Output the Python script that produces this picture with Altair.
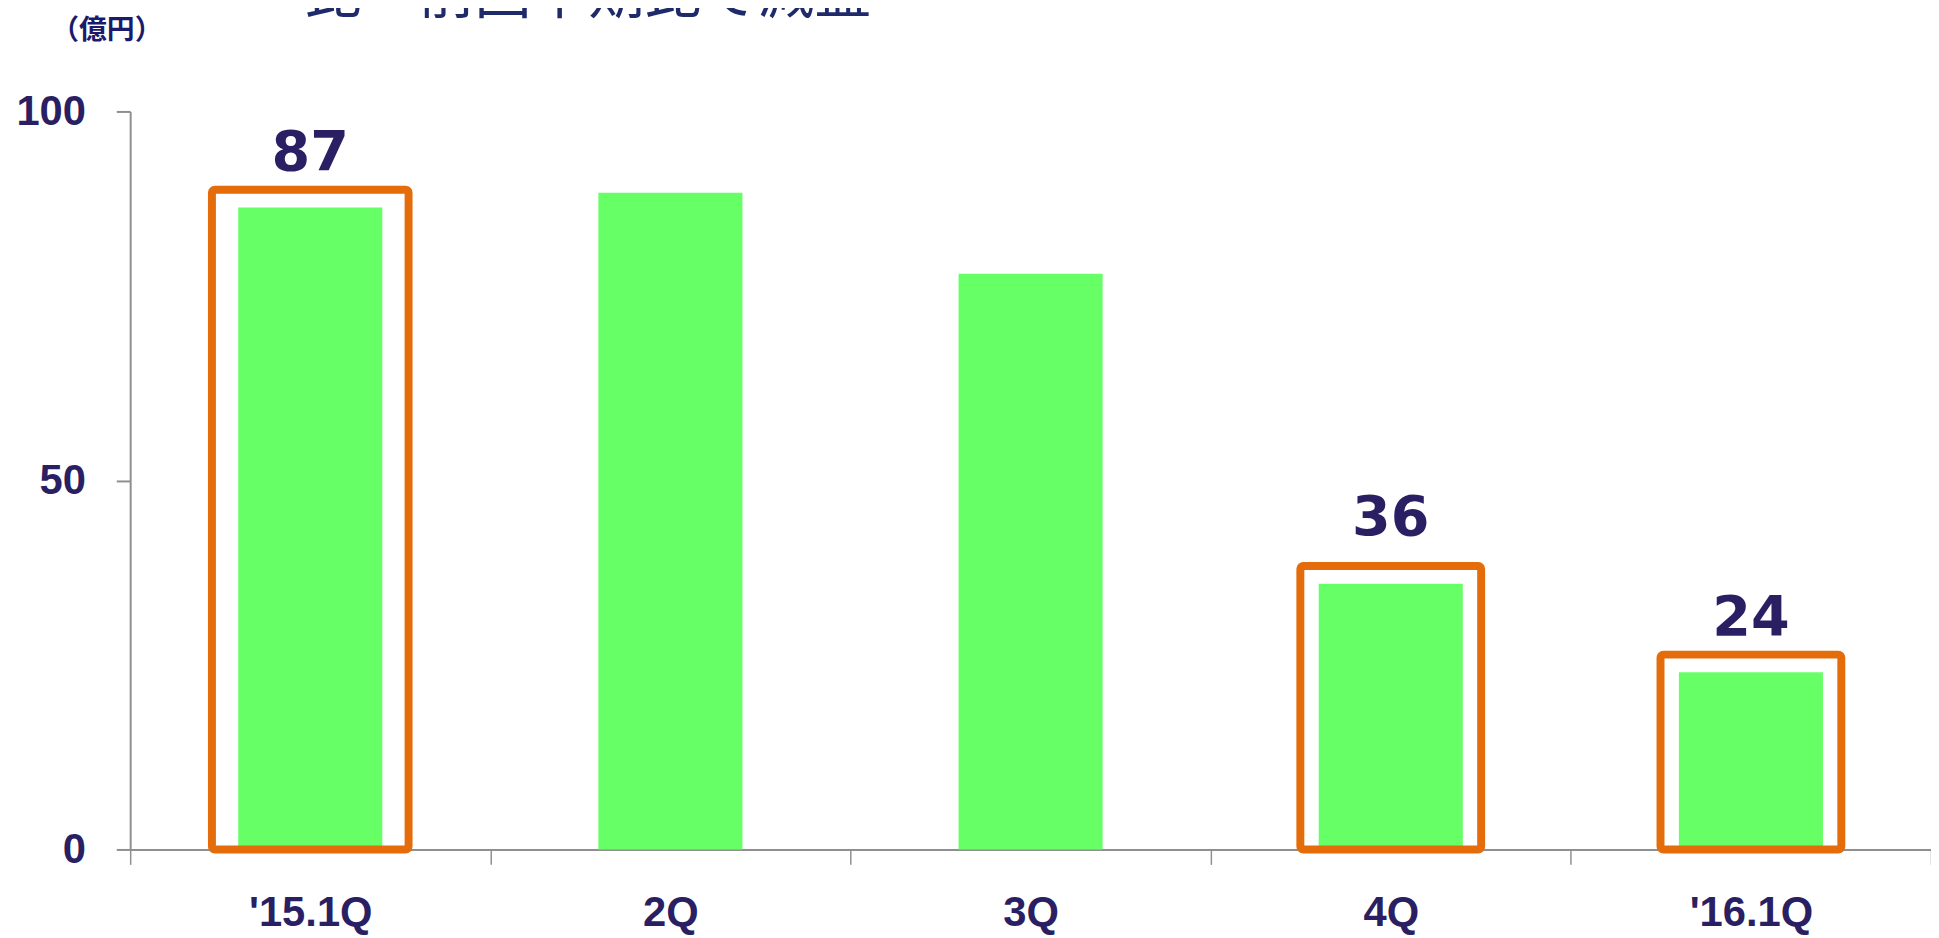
import altair as alt
import pandas as pd

# ---- data ----
categories = ["'15.1Q", "2Q", "3Q", "4Q", "'16.1Q"]
values = [87, 89, 78, 36, 24]
highlighted = [True, False, False, True, True]
y_ticks = [0, 50, 100]
unit_label = "（億円）"
title_text = "比・前回中期比で減益"

df = pd.DataFrame({"quarter": categories, "value": values, "highlight": highlighted})
df["label"] = [str(v) if h else "" for v, h in zip(values, highlighted)]

NAVY = "#2A1F62"
GREEN = "#66FF66"
ORANGE = "#E46C0A"
AXIS_GRAY = "#8F8F8F"

FIRST = categories[0]
RAISED = categories[3]

x = alt.X(
    "quarter:N",
    sort=categories,
    scale=alt.Scale(paddingInner=0, paddingOuter=0),
    axis=alt.Axis(
        title=None,
        labelAngle=0,
        tickBand="extent",
        domainColor=AXIS_GRAY,
        domainWidth=2,
        tickColor=AXIS_GRAY,
        tickWidth=1.5,
        tickSize=15,
        labelPadding=29,
        labelFont="Liberation Sans",
        labelFontWeight="bold",
        labelFontSize=42,
        labelColor=NAVY,
        labelOverlap=False,
    ),
)

y_axis = alt.Axis(
    values=y_ticks,
    grid=False,
    domainColor=AXIS_GRAY,
    domainWidth=2,
    tickColor=AXIS_GRAY,
    tickWidth=2,
    tickSize=14,
    labelPadding=31,
    labelFont="Liberation Sans",
    labelFontWeight="bold",
    labelFontSize=42,
    labelColor=NAVY,
    title=unit_label,
    titleAngle=0,
    titleX=-24,
    titleY=-81,
    titleAlign="center",
    titleBaseline="middle",
    titleFont="Noto Sans CJK JP",
    titleFontSize=28,
    titleFontWeight="bold",
    titleColor="#1B1B6B",
)
y_scale = alt.Scale(domain=[0, 100], nice=False)


def make_y(field):
    return alt.Y(f"{field}:Q", scale=y_scale, axis=y_axis, stack=None)


base = alt.Chart(df)

bars = base.mark_bar(color=GREEN, width=alt.RelativeBandSize(0.4)).encode(
    x=x, y=make_y("value")
)


def box_layer(test, band):
    return (
        base.transform_filter(test)
        .transform_calculate(box_top="datum.value + 2.4")
        .mark_bar(
            filled=False,
            stroke=ORANGE,
            strokeWidth=8,
            cornerRadius=3,
            width=alt.RelativeBandSize(band),
        )
        .encode(x=x, y=make_y("box_top"), y2=alt.datum(0))
    )


box_first = box_layer(f"datum.highlight && datum.quarter == \"{FIRST}\"", 0.546)
box_rest = box_layer(f"datum.highlight && datum.quarter != \"{FIRST}\"", 0.502)


def label_layer(test, dy):
    return (
        base.transform_filter(test)
        .mark_text(
            dy=dy,
            baseline="alphabetic",
            font="DejaVu Sans",
            fontWeight="bold",
            fontSize=56,
            color=NAVY,
        )
        .encode(x=x, y=make_y("value"), text="label:N")
    )


labels_main = label_layer(f"datum.highlight && datum.quarter != \"{RAISED}\"", -38)
labels_raised = label_layer(f"datum.highlight && datum.quarter == \"{RAISED}\"", -49)

chart = (
    alt.layer(bars, box_first, box_rest, labels_main, labels_raised)
    .properties(
        width=1813,
        height=743,
        title=alt.TitleParams(
            text=title_text,
            anchor="start",
            frame="group",
            dx=176,
            dy=8,
            offset=0,
            fontSize=57,
            font="Noto Sans CJK JP",
            fontWeight="normal",
            color="#1F2A6B",
        ),
        padding={"left": 123, "top": 101, "right": 0, "bottom": 86},
        autosize=alt.AutoSizeParams(type="none"),
        background="white",
    )
    .configure_view(stroke=None)
)

chart.save("out.html", embed_options={"renderer": "svg", "actions": False})
